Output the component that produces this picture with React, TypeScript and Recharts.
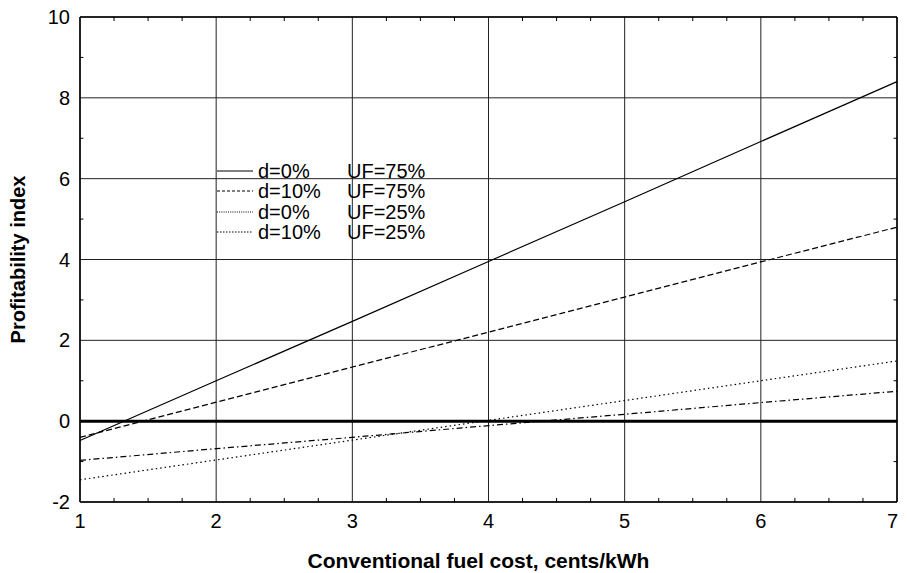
import React from 'react';
import { LineChart, Line, XAxis, YAxis, CartesianGrid, ReferenceLine, Label } from 'recharts';

const xValues = [1, 2, 3, 4, 5, 6, 7];
const d0uf75 = [-0.48, 1.0, 2.47, 3.95, 5.43, 6.92, 8.4];
const d10uf75 = [-0.4, 0.47, 1.34, 2.2, 3.07, 3.94, 4.8];
const d0uf25 = [-1.45, -0.96, -0.47, 0.02, 0.51, 1.0, 1.49];
const d10uf25 = [-0.97, -0.68, -0.4, -0.11, 0.17, 0.46, 0.74];

const xTicks = [1, 2, 3, 4, 5, 6, 7];
const yTicks = [-2, 0, 2, 4, 6, 8, 10];
const xMinorTicks = [1.25, 1.5, 1.75, 2.25, 2.5, 2.75, 3.25, 3.5, 3.75, 4.25, 4.5, 4.75, 5.25, 5.5, 5.75, 6.25, 6.5, 6.75];
const yMinorTicks = [-1, 1, 3, 5, 7, 9];

const series = [
  { key: 'd0uf75', d: 'd=0%', uf: 'UF=75%', dash: undefined as string | undefined, legendDash: undefined as string | undefined, values: d0uf75 },
  { key: 'd10uf75', d: 'd=10%', uf: 'UF=75%', dash: '6 3', legendDash: '3 2', values: d10uf75 },
  { key: 'd0uf25', d: 'd=0%', uf: 'UF=25%', dash: '1.5 3', legendDash: '1 1.2', values: d0uf25 },
  { key: 'd10uf25', d: 'd=10%', uf: 'UF=25%', dash: '6 3 1.5 3', legendDash: '1.5 1.5', values: d10uf25 },
];

const data = xValues.map((x, i) => {
  const row: Record<string, number> = { x };
  series.forEach((s) => {
    row[s.key] = s.values[i];
  });
  return row;
});

const FONT = '"Liberation Sans", Arial, sans-serif';

const XTick = (props: any) => {
  const { x, y, payload } = props;
  const last = payload.value === xTicks[xTicks.length - 1];
  return (
    <text
      x={last ? x + 1 : x}
      y={y}
      dy="0.71em"
      textAnchor={last ? 'end' : 'middle'}
      fill="#000"
      fontSize={20}
      fontFamily={FONT}
    >
      {payload.value}
    </text>
  );
};

const LegendBox = () => (
  <div style={{ position: 'absolute', left: 209, top: 153, fontFamily: FONT, fontSize: 20, color: '#000' }}>
    {series.map((s) => (
      <div key={s.key} style={{ display: 'flex', alignItems: 'center', height: 20.3, lineHeight: '20.3px' }}>
        <svg width={36} height={10} style={{ display: 'block' }}>
          <line x1={0} y1={5} x2={36} y2={5} stroke="#000" strokeWidth={1} strokeDasharray={s.legendDash} />
        </svg>
        <span style={{ marginLeft: 5, width: 89, display: 'inline-block' }}>{s.d}</span>
        <span>{s.uf}</span>
      </div>
    ))}
  </div>
);

export default function App() {
  return (
    <div style={{ position: 'relative', width: 899, height: 565, fontFamily: FONT }}>
      <LineChart
        width={899}
        height={565}
        data={data}
        margin={{ top: 9, right: 10, left: 0, bottom: 0 }}
        style={{ overflow: 'visible' }}
      >
        <CartesianGrid stroke="#222" strokeWidth={1} horizontalValues={yTicks} verticalValues={xTicks} />
        <XAxis
          dataKey="x"
          type="number"
          domain={[1, 7]}
          ticks={xTicks}
          height={71}
          tickLine={false}
          tickSize={6}
          tickMargin={6}
          axisLine={{ stroke: '#000', strokeWidth: 1.5 }}
          tick={<XTick />}
          interval={0}
        >
          <Label
            value="Conventional fuel cost, cents/kWh"
            position="insideBottom"
            offset={5}
            dx={-10}
            style={{ fontWeight: 'bold', fontSize: 21, fill: '#000', fontFamily: FONT }}
          />
        </XAxis>
        <YAxis
          type="number"
          domain={[-2, 10]}
          ticks={yTicks}
          width={72}
          tickLine={false}
          tickSize={6}
          tickMargin={4}
          interval={0}
          axisLine={{ stroke: '#000', strokeWidth: 1.5 }}
          tick={{ fill: '#000', fontSize: 20, fontFamily: FONT }}
        >
          <Label
            value="Profitability index"
            position="insideLeft"
            angle={-90}
            offset={10}
            style={{ fontWeight: 'bold', fontSize: 20, fill: '#000', textAnchor: 'middle', fontFamily: FONT }}
          />
        </YAxis>
        <ReferenceLine y={10} stroke="#000" strokeWidth={1.5} />
        <ReferenceLine x={7} stroke="#000" strokeWidth={1.5} />
        {xMinorTicks.map((t) => (
          <ReferenceLine key={`xb${t}`} segment={[{ x: t, y: -2 }, { x: t, y: -1.9 }]} stroke="#000" strokeWidth={1} />
        ))}
        {xMinorTicks.map((t) => (
          <ReferenceLine key={`xt${t}`} segment={[{ x: t, y: 10 }, { x: t, y: 9.9 }]} stroke="#000" strokeWidth={1} />
        ))}
        {yMinorTicks.map((t) => (
          <ReferenceLine key={`yl${t}`} segment={[{ x: 1, y: t }, { x: 1.025, y: t }]} stroke="#000" strokeWidth={1} />
        ))}
        {yMinorTicks.map((t) => (
          <ReferenceLine key={`yr${t}`} segment={[{ x: 7, y: t }, { x: 6.975, y: t }]} stroke="#000" strokeWidth={1} />
        ))}
        <ReferenceLine y={0} stroke="#000" strokeWidth={3} />
        {series.map((s) => (
          <Line
            key={s.key}
            dataKey={s.key}
            type="linear"
            stroke="#000"
            strokeWidth={1.2}
            strokeDasharray={s.dash}
            dot={false}
            activeDot={false}
            isAnimationActive={false}
          />
        ))}
      </LineChart>
      <LegendBox />
    </div>
  );
}
